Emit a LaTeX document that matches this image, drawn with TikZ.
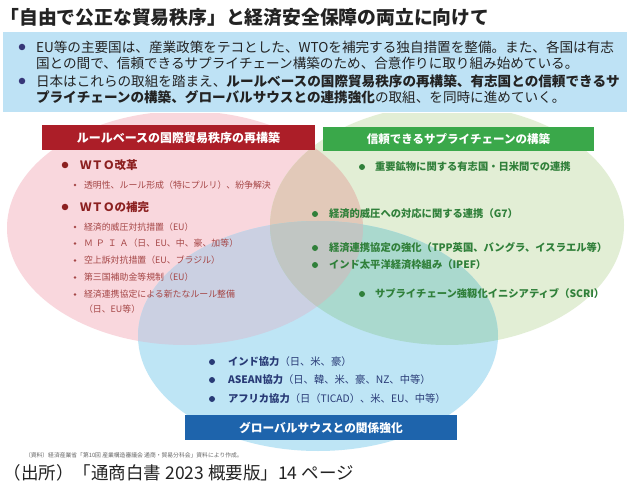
\documentclass[tikz,border=0pt]{standalone}
\usepackage{fontspec}
\setmainfont{Noto Sans CJK JP}
\definecolor{pinkF}{RGB}{249,215,221}
\definecolor{greenF}{RGB}{226,238,213}
\definecolor{blueF}{RGB}{190,229,245}
\definecolor{pgF}{RGB}{226,201,185}
\definecolor{pbF}{RGB}{203,208,226}
\definecolor{gbF}{RGB}{170,217,206}
\definecolor{pgbF}{RGB}{193,198,195}
\definecolor{infoF}{RGB}{190,226,245}
\definecolor{redH}{RGB}{172,30,40}
\definecolor{greenH}{RGB}{58,168,74}
\definecolor{blueH}{RGB}{30,100,172}
\definecolor{redT}{RGB}{140,32,32}
\definecolor{redS}{RGB}{165,70,70}
\definecolor{greenT}{RGB}{48,128,58}
\definecolor{navyT}{RGB}{40,58,118}
\definecolor{infoDot}{RGB}{55,55,120}
\definecolor{darkT}{RGB}{35,35,35}
\definecolor{noteT}{RGB}{100,100,100}
\tikzset{
  tx/.style={anchor=west, inner sep=0pt, outer sep=0pt},
  hdr/.style={rectangle, inner sep=0pt, text=white, font=\fontsize{12}{14}\selectfont\bfseries},
  idot/.style={circle, inner sep=0pt, minimum size=6.5pt, fill=infoDot},
  rdot/.style={circle, inner sep=0pt, minimum size=6.5pt, fill=redT},
  sdot/.style={circle, inner sep=0pt, minimum size=2.6pt, fill=redS},
  gdot/.style={circle, inner sep=0pt, minimum size=6pt, fill=greenT},
  bdot/.style={circle, inner sep=0pt, minimum size=6pt, fill=navyT},
  itx/.style={tx, text=darkT, font=\fontsize{13.6}{16}\selectfont},
  rh/.style={tx, text=redT, font=\fontsize{11.5}{14}\selectfont\bfseries},
  rs/.style={tx, text=redS, font=\fontsize{8.9}{11}\selectfont},
  gt/.style={tx, text=greenT, font=\fontsize{10.3}{12}\selectfont\bfseries},
  bt/.style={tx, text=navyT, font=\fontsize{10.3}{12}\selectfont},
}
\def\pinkE{(185,228) ellipse [x radius=178, y radius=117]}
\def\greenE{(447,225) ellipse [x radius=177, y radius=120]}
\def\blueE{(318,336) ellipse [x radius=180, y radius=115]}
\begin{document}
\begin{tikzpicture}[x=1pt,y=-1pt]
\useasboundingbox (0,0) rectangle (637,489);
\fill[white] (0,0) rectangle (637,489);
% overlapping circles
\begin{scope}
  \clip (0,114) rectangle (637,489);
  \fill[pinkF] \pinkE;
  \fill[greenF] \greenE;
  \fill[blueF] \blueE;
  \begin{scope}\clip \pinkE; \fill[pgF] \greenE; \fill[pbF] \blueE; \end{scope}
  \begin{scope}\clip \greenE; \fill[gbF] \blueE; \end{scope}
  \begin{scope}\clip \pinkE; \clip \greenE; \fill[pgbF] \blueE; \end{scope}
\end{scope}
% title
\node[tx, text=darkT, font=\fontsize{18.8}{22}\selectfont\bfseries] (title) at (0.5,17) {「自由で公正な貿易秩序」と経済安全保障の両立に向けて};
% info box
\fill[infoF] (3,32) rectangle (627,112);
\node[idot] (d1) at (22,47) {};
\node[idot] (d2) at (22,81) {};
\node[itx] (i1) at (36,47) {EU等の主要国は、産業政策をテコとした、WTOを補完する独自措置を整備。また、各国は有志};
\node[itx] (i2) at (36,63) {国との間で、信頼できるサプライチェーン構築のため、合意作りに取り組み始めている。};
\node[itx] (i3) at (36,81) {日本はこれらの取組を踏まえ、\textbf{ルールベースの国際貿易秩序の再構築、有志国との信頼できるサ}};
\node[itx] (i4) at (36,97) {\textbf{プライチェーンの構築、グローバルサウスとの連携強化}の取組、を同時に進めていく。};
% headers
\node[hdr, fill=redH, minimum width=273pt, minimum height=25pt] (hr) at (178.5,137.5) {ルールベースの国際貿易秩序の再構築};
\node[hdr, fill=greenH, minimum width=271pt, minimum height=24pt, font=\fontsize{11.5}{14}\selectfont\bfseries] (hg) at (458.5,139) {信頼できるサプライチェーンの構築};
\node[hdr, fill=blueH, minimum width=272pt, minimum height=25pt, font=\fontsize{11.7}{14}\selectfont\bfseries] (hb) at (321,427.5) {グローバルサウスとの関係強化};
% red items
\node[rdot] (r1d) at (65,165) {};
\node[rh] (r1) at (80,165) {ＷＴＯ改革};
\node[sdot] (r2d) at (75,185) {};
\node[rs] (r2) at (84,185) {透明性、ルール形成（特にプルリ）、紛争解決};
\node[rdot] (r3d) at (65,207) {};
\node[rh] (r3) at (80,207) {ＷＴＯの補完};
\node[sdot] (r4d) at (75,227) {};
\node[rs] (r4) at (84,227) {経済的威圧対抗措置（EU）};
\node[sdot] (r5d) at (75,243.5) {};
\node[rs] (r5) at (84,243.5) {Ｍ\hspace{3pt}Ｐ\hspace{3pt}Ｉ\hspace{3pt}Ａ（日、EU、中、豪、加等）};
\node[sdot] (r6d) at (75,260.5) {};
\node[rs] (r6) at (84,260.5) {空上訴対抗措置（EU、ブラジル）};
\node[sdot] (r7d) at (75,277.5) {};
\node[rs] (r7) at (84,277.5) {第三国補助金等規制（EU）};
\node[sdot] (r8d) at (75,294.5) {};
\node[rs] (r8) at (84,294.5) {経済連携協定による新たなルール整備};
\node[rs] (r9) at (84,309) {（日、EU等）};
% green items
\node[gdot] (g1d) at (362,167) {};
\node[gt] (g1) at (375,167) {重要鉱物に関する有志国・日米間での連携};
\node[gdot] (g2d) at (315,214) {};
\node[gt] (g2) at (329,214) {経済的威圧への対応に関する連携（G7）};
\node[gdot] (g3d) at (315,248) {};
\node[gt] (g3) at (329,248) {経済連携協定の強化（TPP英国、バングラ、イスラエル等）};
\node[gdot] (g4d) at (315,265) {};
\node[gt] (g4) at (329,265) {インド太平洋経済枠組み（IPEF）};
\node[gdot] (g5d) at (362,294) {};
\node[gt] (g5) at (375,294) {サプライチェーン強靱化イニシアティブ（SCRI）};
% blue items
\node[bdot] (b1d) at (212,362) {};
\node[bt] (b1) at (228,362) {\textbf{インド協力}（日、米、豪）};
\node[bdot] (b2d) at (212,380) {};
\node[bt] (b2) at (228,380) {\textbf{ASEAN協力}（日、韓、米、豪、NZ、中等）};
\node[bdot] (b3d) at (212,399) {};
\node[bt] (b3) at (228,399) {\textbf{アフリカ協力}（日（TICAD）、米、EU、中等）};
% notes
\node[tx, text=noteT, font=\fontsize{5.8}{7}\selectfont] (note) at (25,455) {（資料）経済産業省「第10回\ 産業構造審議会\ 通商・貿易分科会」資料により作成。};
\node[tx, text=darkT, font=\fontsize{17.5}{20}\selectfont] (src) at (4,473) {（出所）「通商白書 2023 概要版」14 ページ};
\end{tikzpicture}
\end{document}
